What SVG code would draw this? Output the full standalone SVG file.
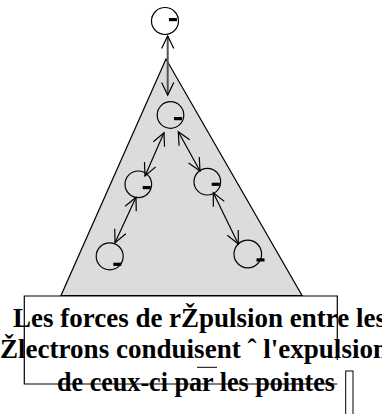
<svg xmlns="http://www.w3.org/2000/svg" width="382" height="414" viewBox="0 0 382 414">
<style>
.charge{fill:none;stroke:#000;stroke-width:1.2}
.minus{fill:#000}
.arr{fill:none;stroke:#000;stroke-width:1.2;marker-start:url(#ah);marker-end:url(#ah)}
.lbl{font-family:"Liberation Serif","Times New Roman",serif;font-weight:bold;font-size:27px;fill:#000}
</style>
<defs>
<marker id="ah" markerUnits="userSpaceOnUse" viewBox="-15 -8 16 16" markerWidth="16" markerHeight="16" refX="0" refY="0" orient="auto-start-reverse" overflow="visible">
<path d="M-12.6,-6.1 L0,0 L-12.6,6.1" fill="none" stroke="#000" stroke-width="1.2"/>
</marker>
</defs>
<g id="triangle">
<polygon points="166,59 61,295.5 302,295.5" fill="#dcdcdc" stroke="#000" stroke-width="1.2"/>
</g>
<g id="connectors">
<line class="arr" x1="167.7" y1="36" x2="167.7" y2="95" style="stroke:#555;stroke-width:2"/>
<line class="arr" x1="164" y1="132.7" x2="145" y2="176"/>
<line class="arr" x1="178.3" y1="131.7" x2="200" y2="171"/>
<line class="arr" x1="136" y1="197.3" x2="115" y2="242.7"/>
<line class="arr" x1="213.3" y1="192.7" x2="238.3" y2="244"/>
</g>
<g id="e1"><circle class="charge" cx="165" cy="21" r="13.5"/><rect class="minus" x="169" y="18" width="8" height="3.2"/></g>
<g id="e2"><circle class="charge" cx="170.5" cy="115" r="13.3"/><rect class="minus" x="174" y="117" width="8" height="3.2"/></g>
<g id="e3"><circle class="charge" cx="138.3" cy="184.3" r="13.3"/><rect class="minus" x="142.7" y="186" width="8" height="3.2"/></g>
<g id="e4"><circle class="charge" cx="207.3" cy="181.7" r="13.3"/><rect class="minus" x="211.7" y="182.7" width="8" height="3.2"/></g>
<g id="e5"><circle class="charge" cx="109.7" cy="256.3" r="13.5"/><rect class="minus" x="113.3" y="262.7" width="8" height="3.2"/></g>
<g id="e6"><circle class="charge" cx="247.8" cy="254" r="13.8"/><rect class="minus" x="256.5" y="258.3" width="8" height="3.2"/></g>
<g id="caption">
<path d="M337.3,360 L337.3,296 L24.3,296 L24.3,384 L337.3,384" fill="none" stroke="#000" stroke-width="1.2"/>
<text class="lbl" x="13" y="327" textLength="373" lengthAdjust="spacingAndGlyphs">Les forces de rŽpulsion entre les</text>
<text class="lbl" x="0" y="358" textLength="388" lengthAdjust="spacingAndGlyphs">Žlectrons conduisent ˆ l'expulsion</text>
<text class="lbl" x="57" y="391" textLength="278" lengthAdjust="spacingAndGlyphs">de ceux-ci par les pointes</text>
<line x1="197" y1="367.3" x2="217" y2="367.3" stroke="#000" stroke-width="1"/>
</g>
<g id="cursor">
<rect x="345.7" y="371" width="7.3" height="50" fill="none" stroke="#000" stroke-width="1"/>
</g>
</svg>
